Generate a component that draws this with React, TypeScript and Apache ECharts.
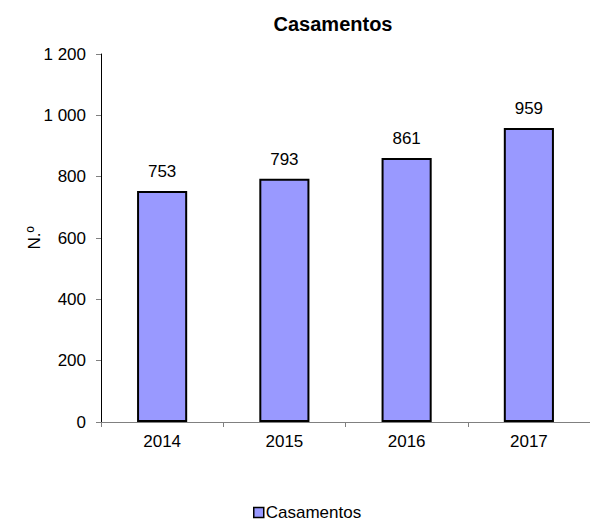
import React, { useEffect, useRef } from "react";
import * as echarts from "echarts";

const categories = ["2014", "2015", "2016", "2017"];
const casamentos = [753, 793, 861, 959];
const yTicks = [0, 200, 400, 600, 800, 1000, 1200];

const fmt = (v: number) => String(v).replace(/\B(?=(\d{3})+(?!\d))/g, " ");

export default function App() {
  const ref = useRef<HTMLDivElement>(null);
  useEffect(() => {
    if (!ref.current) return;
    const chart = echarts.init(ref.current, undefined, { renderer: "svg" });
    const font = "'Liberation Sans', Arial, sans-serif";
    chart.setOption({
      animation: false,
      textStyle: { fontFamily: font },
      title: {
        text: "Casamentos",
        left: 333,
        top: 14,
        padding: 0,
        textAlign: "center",
        textStyle: { fontFamily: font, fontSize: 20, fontWeight: "bold", color: "#000" },
      },
      grid: { left: 101, top: 54, width: 492, height: 368, containLabel: false },
      legend: {
        data: ["Casamentos"],
        left: 253,
        top: 504,
        padding: 0,
        icon: "rect",
        itemWidth: 10,
        itemHeight: 10,
        itemGap: 4,
        textStyle: { fontFamily: font, fontSize: 17, color: "#000", padding: [0, 0, 0, -3] },
        itemStyle: { borderColor: "#000", borderWidth: 1.5 },
      },
      xAxis: {
        type: "category",
        data: categories,
        axisLine: { lineStyle: { color: "#808080", width: 1 } },
        axisTick: { show: true, length: 5, lineStyle: { color: "#808080" } },
        axisLabel: { color: "#000", fontSize: 17, margin: 11, fontFamily: font },
      },
      yAxis: {
        type: "value",
        min: yTicks[0],
        max: yTicks[yTicks.length - 1],
        interval: 200,
        name: "N.º",
        nameLocation: "middle",
        nameGap: 58,
        nameRotate: 90,
        nameMoveOverlap: false,
        nameTextStyle: { color: "#000", fontSize: 17, fontFamily: font },
        axisLine: { show: true, lineStyle: { color: "#000", width: 1 } },
        axisTick: { show: true, length: 5, lineStyle: { color: "#808080" } },
        splitLine: { show: false },
        axisLabel: { color: "#000", fontSize: 17, margin: 15, fontFamily: font, formatter: (v: number) => fmt(v) },
      },
      series: [
        {
          name: "Casamentos",
          type: "bar",
          data: casamentos,
          barWidth: "41%",
          itemStyle: { color: "#9999FF", borderColor: "#000", borderWidth: 2 },
          label: {
            show: true,
            position: "top",
            distance: 11,
            color: "#000",
            fontSize: 17,
            fontFamily: font,
          },
        },
      ],
    });
    return () => chart.dispose();
  }, []);
  return <div ref={ref} style={{ width: 590, height: 523, position: "absolute", left: 0, top: 0 }} />;
}
